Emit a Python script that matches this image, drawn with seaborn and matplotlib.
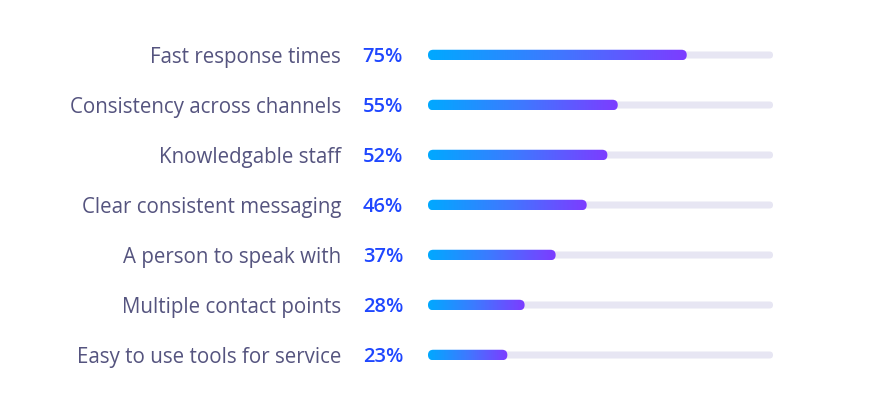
import numpy as np
import pandas as pd
import matplotlib.pyplot as plt
import seaborn as sns
from matplotlib.patches import FancyBboxPatch
from matplotlib.colors import LinearSegmentedColormap

# chart data
items = ['Fast response times', 'Consistency across channels', 'Knowledgable staff',
         'Clear consistent messaging', 'A person to speak with',
         'Multiple contact points', 'Easy to use tools for service']
pct = [75, 55, 52, 46, 37, 28, 23]
full = [100] * len(items)

label_col = '#55547f'
pct_col = '#1f47ff'
track_col = '#e7e6f3'
grad = LinearSegmentedColormap.from_list('grad', ['#00a9ff', '#3f78ff', '#7d3cff'])

df = pd.DataFrame({'item': items, 'pct': pct, 'full': full})

sns.set_style('white')
plt.rcParams['font.family'] = ['Open Sans', 'DejaVu Sans']

fig = plt.figure(figsize=(8.71, 4.2), dpi=100)
ax = fig.add_axes([428 / 871, 40 / 420, 345 / 871, 350 / 420])

sns.barplot(data=df, x='full', y='item', color=track_col, width=0.14, ax=ax)
sns.barplot(data=df, x='pct', y='item', color='#7d3cff', width=0.21, ax=ax)

ax.set_xlim(0, 100)
ax.set_ylim(len(items) - 0.5, -0.5)

# px per unit: x = 3.45, y = 50 -> keep the round ends circular
asp = 3.45 / 50
bars = list(ax.patches)
n = len(items)
for k, p in enumerate(bars):
    x, y, w, h = p.get_x(), p.get_y(), p.get_width(), p.get_height()
    p.remove()
    r = (h / asp) / 2
    box = FancyBboxPatch((x, y), w, h, boxstyle=f'round,pad=0,rounding_size={r}',
                         mutation_aspect=asp, linewidth=0,
                         facecolor=track_col if k < n else 'none')
    ax.add_patch(box)
    if k >= n:
        img = ax.imshow(np.linspace(0, 1, 256).reshape(1, -1), cmap=grad,
                        extent=[x, x + w, y + h, y], aspect='auto',
                        interpolation='bicubic', zorder=3)
        img.set_clip_path(box)

ax.set_xlim(0, 100)
ax.set_ylim(len(items) - 0.5, -0.5)

for i, v in enumerate(pct):
    ax.annotate(f'{v}%', xy=(0, i), xycoords=('axes fraction', 'data'),
                xytext=(-25 * 0.72, 0), textcoords='offset points',
                ha='right', va='center_baseline', fontsize=14.5,
                fontweight='semibold', color=pct_col)

ax.set_xticks([])
ax.set_xlabel('')
ax.set_ylabel('')
ax.tick_params(axis='y', length=0, pad=87 * 0.72, labelsize=14.8, labelcolor=label_col)
for t in ax.get_yticklabels():
    t.set_fontweight('medium')
sns.despine(ax=ax, left=True, bottom=True)

fig.savefig('out.png', dpi=100, facecolor='white')
